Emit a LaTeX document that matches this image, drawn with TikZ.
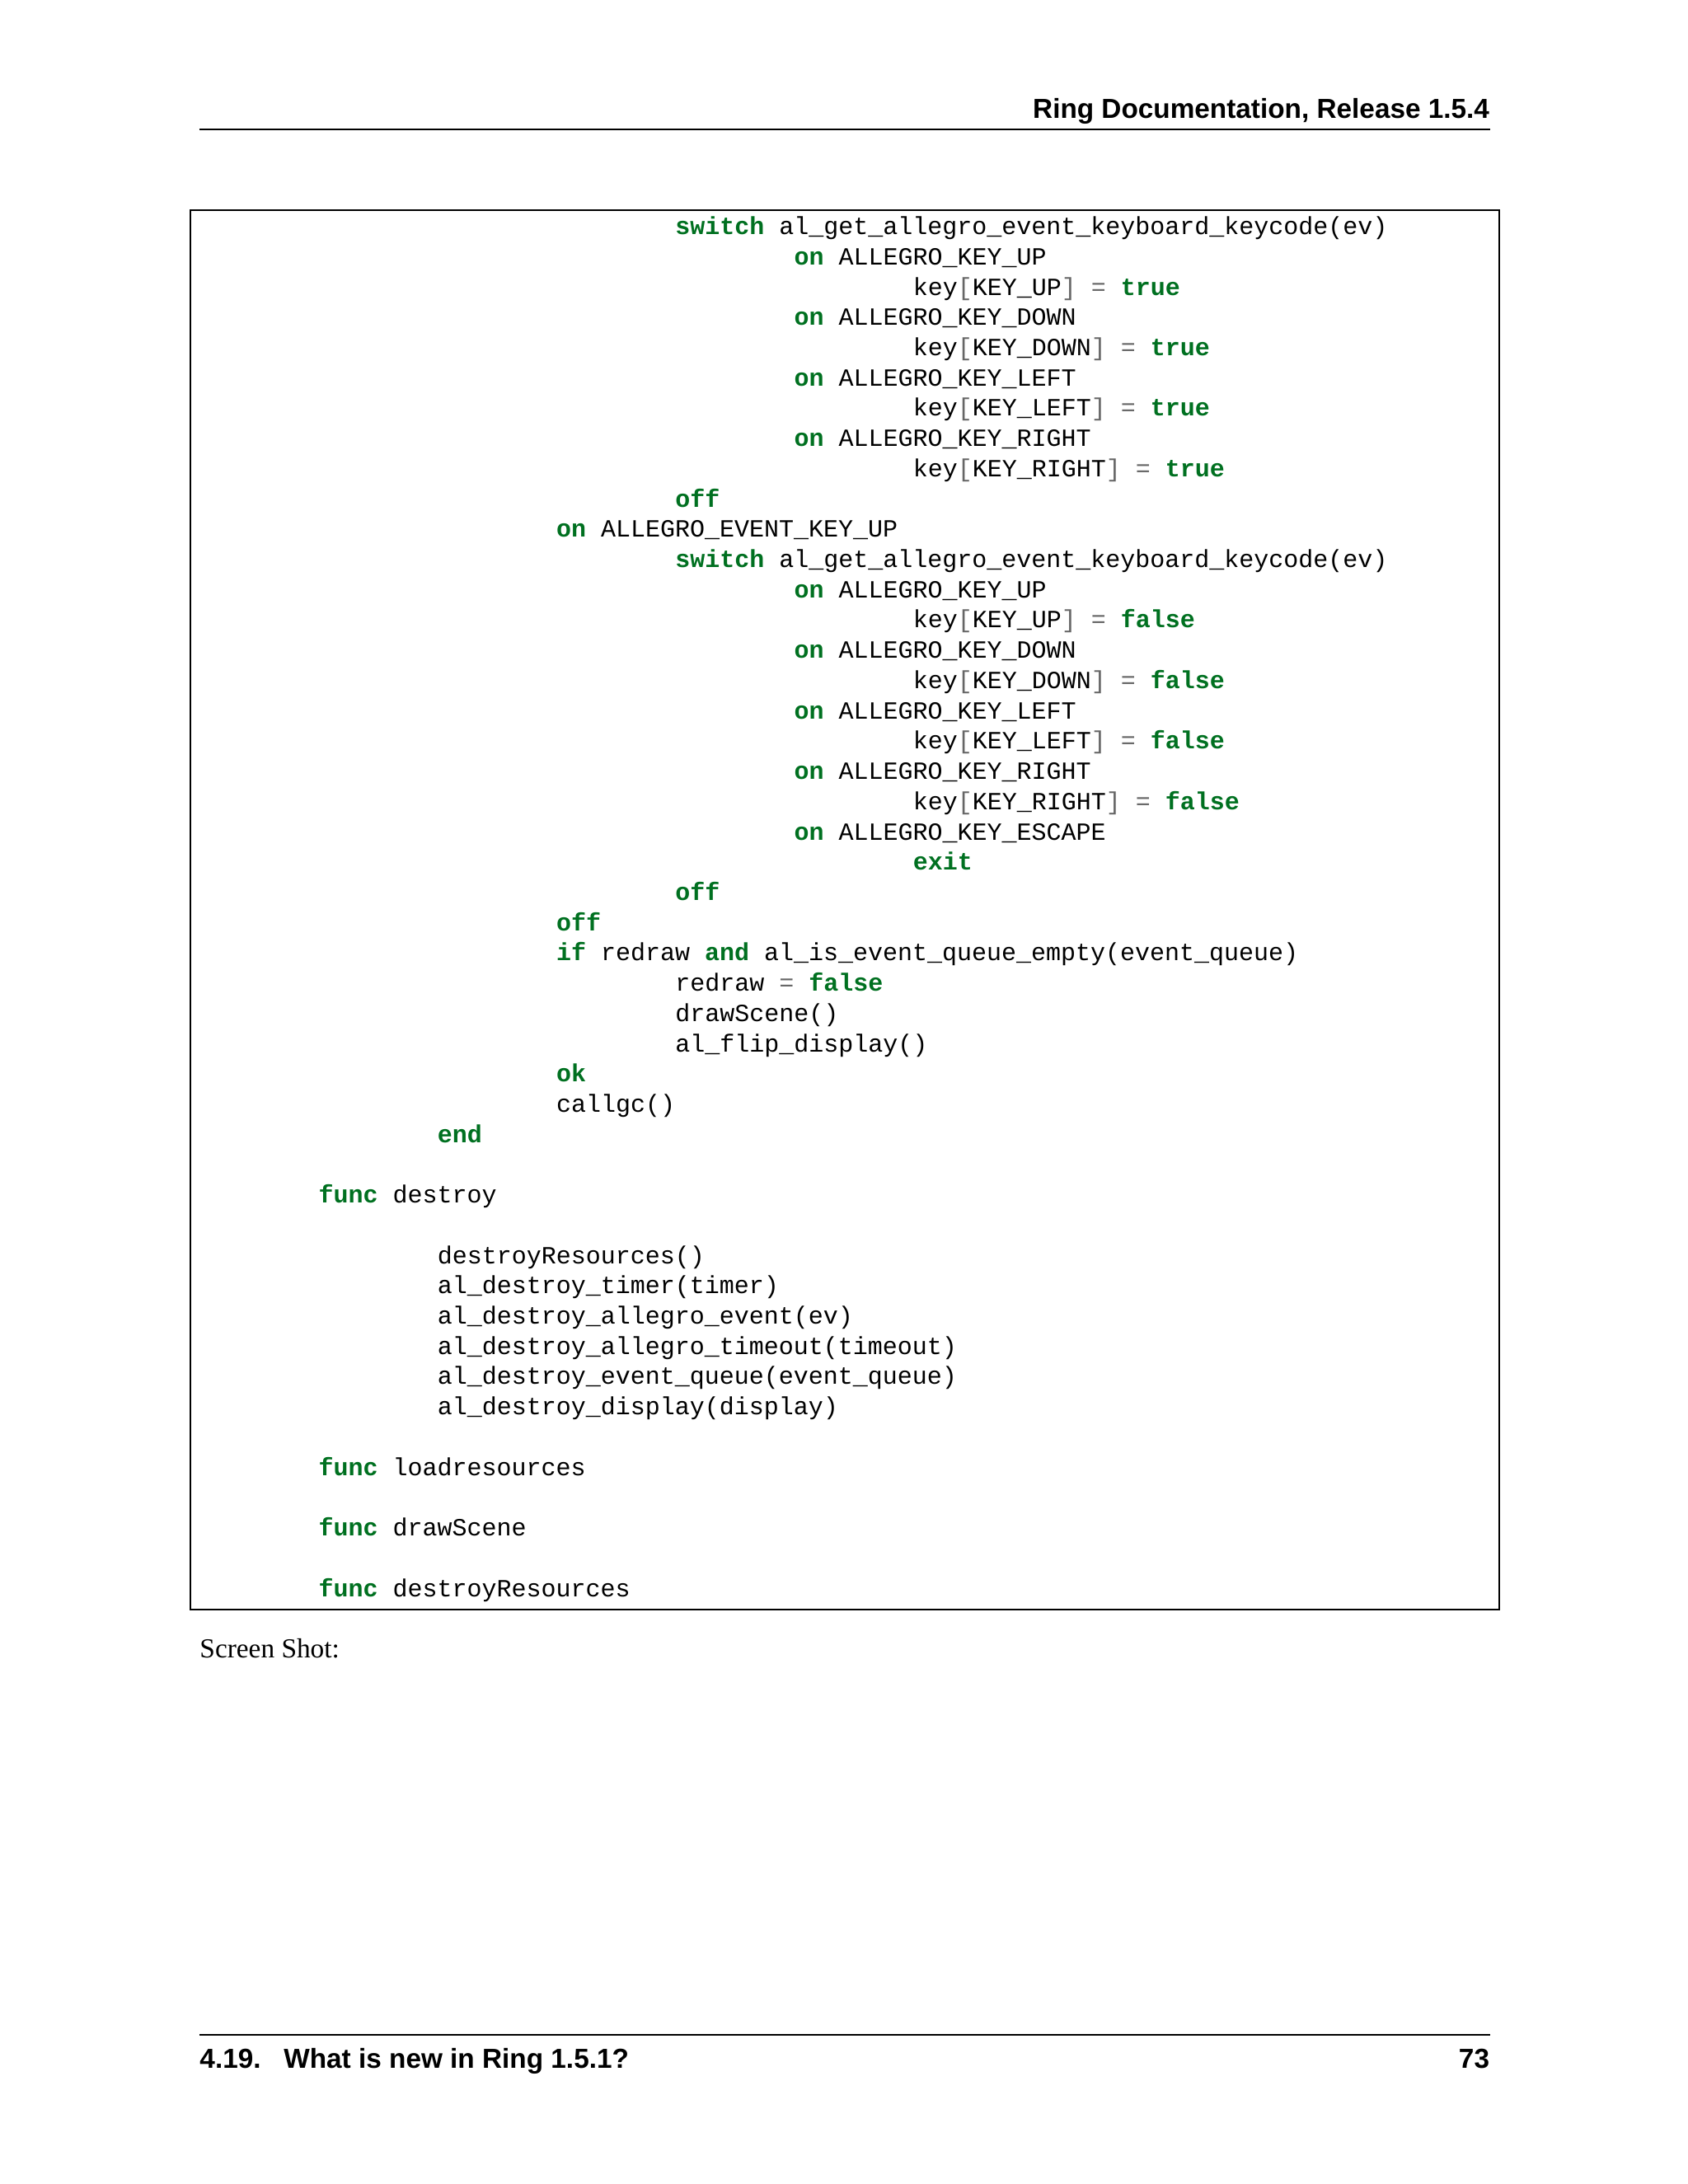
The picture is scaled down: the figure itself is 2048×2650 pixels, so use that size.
\documentclass[tikz,border=0pt]{standalone}
\usepackage{fontspec}
\setmainfont{Liberation Serif}
\setsansfont{Liberation Sans}
\setmonofont{Liberation Mono}
\definecolor{kwgreen}{HTML}{007020}
\definecolor{opgrey}{HTML}{666666}
\newcommand\kw[1]{\textcolor{kwgreen}{\textbf{#1}}}
\newcommand\op[1]{\textcolor{opgrey}{#1}}
\newcommand\cl[3]{\node[codeline] (l#1) at ({241.8+18.03*#2},{275.6+9+36.72*(#1-1)}) {#3};}
\begin{document}
\begin{tikzpicture}[x=0.3pt,y=-0.3pt,
  codeline/.style={anchor=base west,inner sep=0pt,font=\ttfamily\fontsize{9}{10}\selectfont},
  hdr/.style={inner sep=0pt,font=\sffamily\bfseries\fontsize{10}{12}\selectfont},
  rulestyle/.style={line width=0.4pt}]
\useasboundingbox (0,0) rectangle (2048,2650);
\node[hdr,anchor=base east] (head) at (1807.7,143) {Ring Documentation, Release 1.5.4};
\coordinate (hr1) at (241.8,157); \coordinate (hr2) at (1807.7,157);
\draw[rulestyle] (hr1) -- (hr2);
\node[draw,line width=0.6pt,minimum width=1588*0.3pt,minimum height=1697.9*0.3pt,anchor=north west,inner sep=0pt] (box) at (230,253.7) {};
\cl{1}{32}{\kw{switch} al\_get\_allegro\_event\_keyboard\_keycode(ev)}
\cl{2}{40}{\kw{on} ALLEGRO\_KEY\_UP}
\cl{3}{48}{key\op{[}KEY\_UP\op{]} \op{=} \kw{true}}
\cl{4}{40}{\kw{on} ALLEGRO\_KEY\_DOWN}
\cl{5}{48}{key\op{[}KEY\_DOWN\op{]} \op{=} \kw{true}}
\cl{6}{40}{\kw{on} ALLEGRO\_KEY\_LEFT}
\cl{7}{48}{key\op{[}KEY\_LEFT\op{]} \op{=} \kw{true}}
\cl{8}{40}{\kw{on} ALLEGRO\_KEY\_RIGHT}
\cl{9}{48}{key\op{[}KEY\_RIGHT\op{]} \op{=} \kw{true}}
\cl{10}{32}{\kw{off}}
\cl{11}{24}{\kw{on} ALLEGRO\_EVENT\_KEY\_UP}
\cl{12}{32}{\kw{switch} al\_get\_allegro\_event\_keyboard\_keycode(ev)}
\cl{13}{40}{\kw{on} ALLEGRO\_KEY\_UP}
\cl{14}{48}{key\op{[}KEY\_UP\op{]} \op{=} \kw{false}}
\cl{15}{40}{\kw{on} ALLEGRO\_KEY\_DOWN}
\cl{16}{48}{key\op{[}KEY\_DOWN\op{]} \op{=} \kw{false}}
\cl{17}{40}{\kw{on} ALLEGRO\_KEY\_LEFT}
\cl{18}{48}{key\op{[}KEY\_LEFT\op{]} \op{=} \kw{false}}
\cl{19}{40}{\kw{on} ALLEGRO\_KEY\_RIGHT}
\cl{20}{48}{key\op{[}KEY\_RIGHT\op{]} \op{=} \kw{false}}
\cl{21}{40}{\kw{on} ALLEGRO\_KEY\_ESCAPE}
\cl{22}{48}{\kw{exit}}
\cl{23}{32}{\kw{off}}
\cl{24}{24}{\kw{off}}
\cl{25}{24}{\kw{if} redraw \kw{and} al\_is\_event\_queue\_empty(event\_queue)}
\cl{26}{32}{redraw \op{=} \kw{false}}
\cl{27}{32}{drawScene()}
\cl{28}{32}{al\_flip\_display()}
\cl{29}{24}{\kw{ok}}
\cl{30}{24}{callgc()}
\cl{31}{16}{\kw{end}}
\cl{33}{8}{\kw{func} destroy}
\cl{35}{16}{destroyResources()}
\cl{36}{16}{al\_destroy\_timer(timer)}
\cl{37}{16}{al\_destroy\_allegro\_event(ev)}
\cl{38}{16}{al\_destroy\_allegro\_timeout(timeout)}
\cl{39}{16}{al\_destroy\_event\_queue(event\_queue)}
\cl{40}{16}{al\_destroy\_display(display)}
\cl{42}{8}{\kw{func} loadresources}
\cl{44}{8}{\kw{func} drawScene}
\cl{46}{8}{\kw{func} destroyResources}
\node[anchor=base west,inner sep=0pt,font=\fontsize{10}{12}\selectfont] (shot) at (241.8,2011) {Screen Shot:};
\coordinate (fr1) at (241.8,2469); \coordinate (fr2) at (1807.7,2469);
\draw[rulestyle] (fr1) -- (fr2);
\node[hdr,anchor=base west] (foot) at (241.8,2509) {4.19.\ \ \ What is new in Ring 1.5.1?};
\node[hdr,anchor=base east] (page) at (1807.7,2509) {73};
\end{tikzpicture}
\end{document}
